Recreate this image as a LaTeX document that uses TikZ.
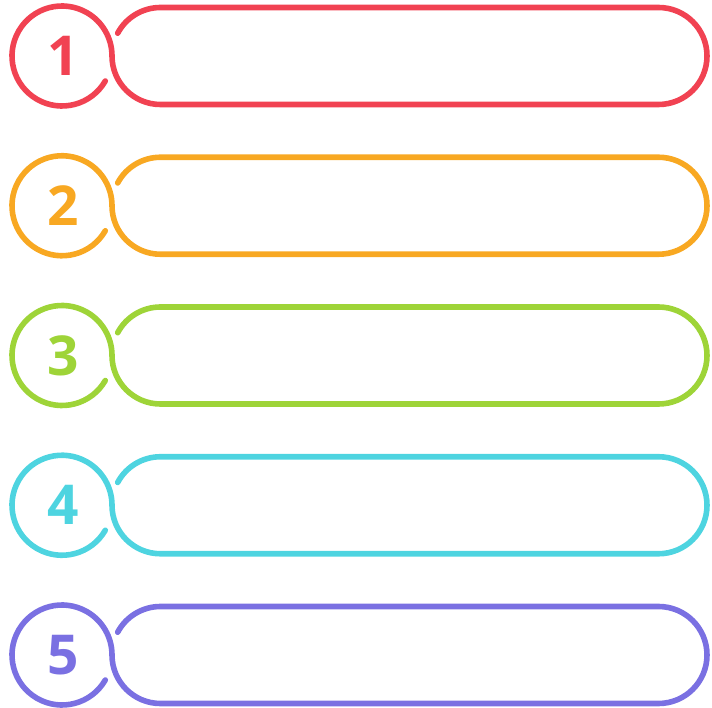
\documentclass[tikz,border=0pt]{standalone}
\usepackage{fontspec}
\setmainfont{Open Sans}
\definecolor{cred}{RGB}{241,66,82}
\definecolor{corange}{RGB}{248,168,34}
\definecolor{cgreen}{RGB}{158,212,56}
\definecolor{ccyan}{RGB}{78,212,224}
\definecolor{cpurple}{RGB}{122,112,226}
\begin{document}
\begin{tikzpicture}[x=1pt,y=1pt,
  outline/.style={line width=5.6pt,line cap=round,line join=round},
  numlabel/.style={font=\fontsize{55}{55}\selectfont\bfseries,inner sep=0pt}]
\useasboundingbox (0,0) rectangle (712,707);
\foreach \i/\col/\cy in {1/cred/651, 2/corange/501.25, 3/cgreen/351.5, 4/ccyan/201.75, 5/cpurple/52}{
  \draw[outline,draw=\col] (62,\cy) ++(-30:50pt)
    arc[start angle=-30,end angle=-360,radius=50pt]
    arc[start angle=180,end angle=270,radius=48.5pt]
    -- (658.5,\cy-48.5)
    arc[start angle=-90,end angle=90,radius=48.5pt]
    -- (160.5,\cy+48.5)
    arc[start angle=90,end angle=152,radius=48.5pt];
  \node[numlabel,text=\col] (n\i) at (63,\cy) {\i};
}
\end{tikzpicture}
\end{document}
